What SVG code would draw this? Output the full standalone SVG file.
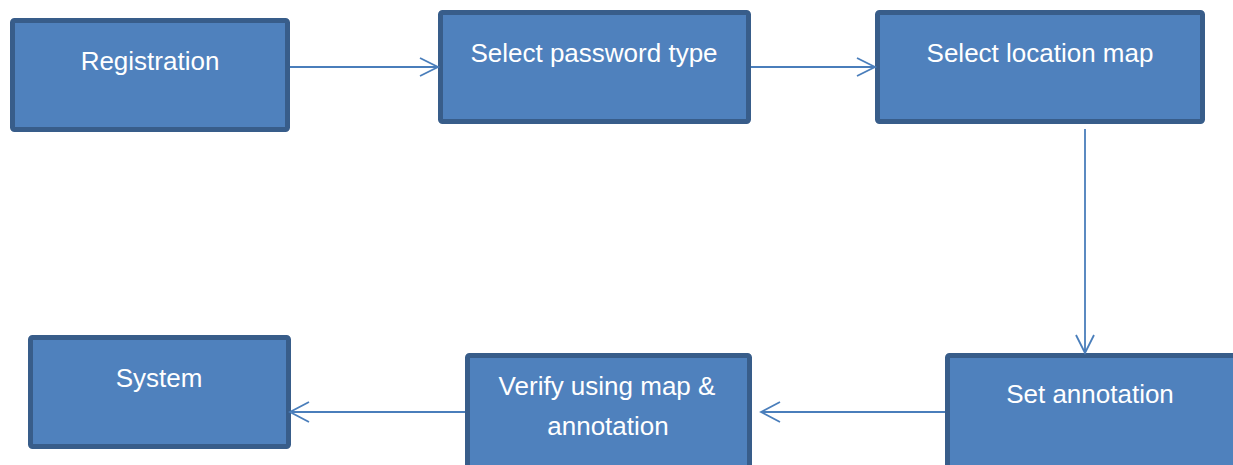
<svg xmlns="http://www.w3.org/2000/svg" width="1233" height="465" viewBox="0 0 1233 465">
<style>
.box{fill:#4f81bd;stroke:#385d8a;stroke-width:5;}
.lbl{fill:#ffffff;font-family:"Liberation Sans",Arial,sans-serif;font-size:26px;text-anchor:middle;}
.edge{fill:none;stroke:#4a7ebb;stroke-width:1.8;}
</style>
<rect width="1233" height="465" fill="#ffffff"/>
<g id="registration"><rect class="box" x="12.5" y="20.5" width="275" height="109" rx="2"/><text class="lbl" x="150" y="70">Registration</text></g>
<g id="select-password-type"><rect class="box" x="440.5" y="12.5" width="308" height="109" rx="2"/><text class="lbl" x="594" y="62">Select password type</text></g>
<g id="select-location-map"><rect class="box" x="877.5" y="12.5" width="325" height="109" rx="2"/><text class="lbl" x="1040" y="62">Select location map</text></g>
<g id="system"><rect class="box" x="30.5" y="337.5" width="258" height="109" rx="2"/><text class="lbl" x="159" y="387">System</text></g>
<g id="verify"><rect class="box" x="467.5" y="355.5" width="282" height="120" rx="2"/><text class="lbl" x="607" y="395">Verify using map &amp;</text><text class="lbl" x="608" y="435">annotation</text></g>
<g id="set-annotation"><rect class="box" x="947.5" y="355.5" width="300" height="120" rx="2"/><text class="lbl" x="1090" y="403">Set annotation</text></g>
<g id="connectors">
<path class="edge" d="M290 67H437M420 58L438 67L420 76"/>
<path class="edge" d="M751 67H874M857 58L875 67L857 76"/>
<path class="edge" d="M1085 129V352M1076 335L1085 353L1094 335"/>
<path class="edge" d="M945 412H762M780 402L761 412L780 422"/>
<path class="edge" d="M465 412H292M309 402L290 412L309 422"/>
</g>
</svg>
